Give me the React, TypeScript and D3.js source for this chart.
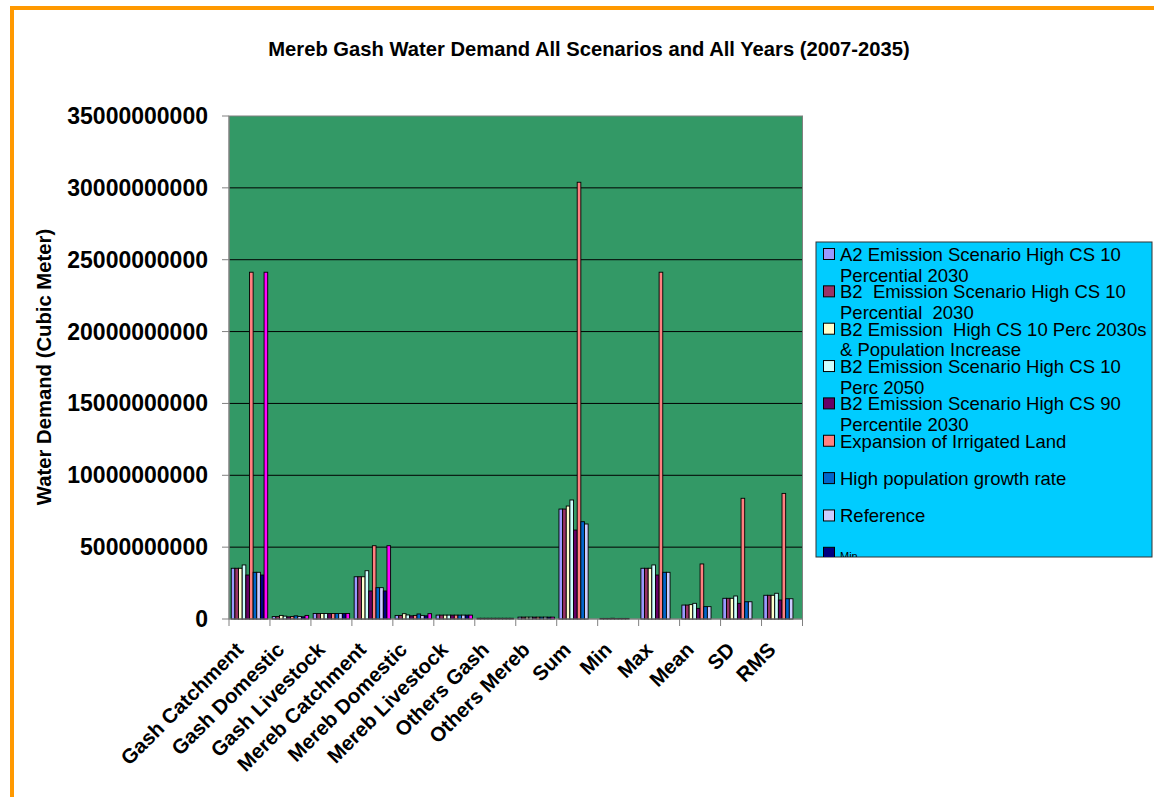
import React from "react";
import * as d3 from "d3";

const categories = [
  "Gash Catchment", "Gash Domestic", "Gash Livestock", "Mereb Catchment",
  "Mereb Domestic", "Mereb Livestock", "Others Gash", "Others Mereb",
  "Sum", "Min", "Max", "Mean", "SD", "RMS",
];

// values in billions of cubic meters (x 1e9)
const a2Hc10 = [3.53, 0.17, 0.38, 2.94, 0.25, 0.27, 0.05, 0.13, 7.65, 0.04, 3.53, 0.97, 1.44, 1.65];
const b2Hc10 = [3.53, 0.17, 0.38, 2.94, 0.25, 0.27, 0.05, 0.13, 7.65, 0.04, 3.53, 0.97, 1.44, 1.65];
const b2Pop = [3.53, 0.25, 0.38, 2.94, 0.37, 0.27, 0.05, 0.13, 7.86, 0.04, 3.53, 1.0, 1.44, 1.65];
const b2Perc2050 = [3.76, 0.2, 0.38, 3.36, 0.28, 0.27, 0.05, 0.13, 8.28, 0.05, 3.76, 1.09, 1.6, 1.79];
const b2Hc90 = [3.06, 0.15, 0.38, 1.95, 0.22, 0.27, 0.05, 0.13, 6.19, 0.03, 3.06, 0.74, 1.09, 1.32];
const expansion = [24.13, 0.17, 0.38, 5.1, 0.25, 0.27, 0.05, 0.13, 30.39, 0.04, 24.13, 3.83, 8.4, 8.74];
const highPop = [3.25, 0.22, 0.38, 2.18, 0.35, 0.27, 0.05, 0.13, 6.77, 0.04, 3.25, 0.86, 1.2, 1.41];
const reference = [3.25, 0.17, 0.38, 2.18, 0.25, 0.27, 0.05, 0.13, 6.61, 0.04, 3.25, 0.86, 1.2, 1.41];
const minSeries = [3.06, 0.15, 0.38, 1.95, 0.22, 0.27, 0.05, 0.13, 0, 0, 0, 0, 0, 0];
const maxSeries = [24.13, 0.25, 0.38, 5.1, 0.37, 0.27, 0.05, 0.13, 0, 0, 0, 0, 0, 0];

const seriesNames = [
  ["A2 Emission Scenario High CS 10", "Percential 2030"],
  ["B2  Emission Scenario High CS 10", "Percential  2030"],
  ["B2 Emission  High CS 10 Perc 2030s", "& Population Increase"],
  ["B2 Emission Scenario High CS 10", "Perc 2050"],
  ["B2 Emission Scenario High CS 90", "Percentile 2030"],
  ["Expansion of Irrigated Land"],
  ["High population growth rate"],
  ["Reference"],
  ["Min"],
  ["Max"],
];
const seriesValues = [a2Hc10, b2Hc10, b2Pop, b2Perc2050, b2Hc90, expansion, highPop, reference, minSeries, maxSeries];
const seriesColors = ["#9999FF", "#993366", "#FFFFCC", "#CCFFFF", "#660066", "#FF8080", "#0066CC", "#CCCCFF", "#000080", "#FF00FF"];

const yTicks = [0, 5, 10, 15, 20, 25, 30, 35];
const SCALE = 1e9;

const W = 1154;
const H = 797;
const FONT = "'Liberation Sans', Arial, Helvetica, sans-serif";

export default function App() {
  const plot = { left: 229, right: 802.5, top: 116, bottom: 619 };
  const x0 = d3.scaleBand<string>().domain(categories).range([plot.left, plot.right]).paddingInner(0).paddingOuter(0);
  const bw = x0.bandwidth();
  const x1 = d3.scaleBand<number>().domain(d3.range(seriesValues.length)).range([bw * 0.055, bw * 0.945]).padding(0);
  const y = d3.scaleLinear().domain([0, 35 * SCALE]).range([plot.bottom, plot.top]);

  const legend = { x: 816, y: 242, w: 336, h: 315 };
  const itemStep = 37.35;
  const firstBaseline = 261;

  return (
    <svg width={W} height={H} style={{ position: "absolute", left: 0, top: 0, background: "#fff" }} fontFamily={FONT}>
      <defs>
        <clipPath id="legclip">
          <rect x={legend.x} y={legend.y} width={legend.w} height={legend.h} />
        </clipPath>
      </defs>
      <rect x={0} y={0} width={W} height={H} fill="#fff" />
      <rect x={12} y={8} width={W + 40} height={H + 40} fill="none" stroke="#FF9900" strokeWidth={4} />

      <text x={589} y={56} textAnchor="middle" fontSize={20.2} fontWeight="bold" fill="#000">
        Mereb Gash Water Demand All Scenarios and All Years (2007-2035)
      </text>

      {/* plot area */}
      <rect x={plot.left} y={plot.top} width={plot.right - plot.left} height={plot.bottom - plot.top} fill="#339966" />
      {yTicks.filter((t) => t > 0 && t < 35).map((t) => (
        <line key={t} x1={plot.left} x2={plot.right} y1={y(t * SCALE)} y2={y(t * SCALE)} stroke="#000" strokeWidth={1} />
      ))}
      <rect x={plot.left} y={plot.top} width={plot.right - plot.left} height={plot.bottom - plot.top} fill="none" stroke="#808080" strokeWidth={1} />

      {/* bars */}
      {categories.map((c, ci) => (
        <g key={c} transform={`translate(${x0(c)},0)`}>
          {seriesValues.map((vals, si) => {
            const v = vals[ci] * SCALE;
            if (v <= 0) return null;
            const top = y(v);
            return (
              <rect key={si} x={x1(si)} y={top} width={x1.bandwidth()} height={plot.bottom - top}
                fill={seriesColors[si]} stroke="#000" strokeWidth={0.9} />
            );
          })}
        </g>
      ))}

      {/* y axis */}
      <line x1={plot.left} x2={plot.left} y1={plot.top} y2={plot.bottom} stroke="#808080" />
      {yTicks.map((t) => (
        <g key={t}>
          <line x1={plot.left - 7} x2={plot.left} y1={y(t * SCALE)} y2={y(t * SCALE)} stroke="#808080" />
          <text x={208} y={y(t * SCALE) + 8} textAnchor="end" fontSize={23} fontWeight="bold" fill="#000">
            {String(t * SCALE)}
          </text>
        </g>
      ))}
      <text transform={`translate(51,367) rotate(-90)`} textAnchor="middle" fontSize={20.3} fontWeight="bold" fill="#000">
        Water Demand (Cubic Meter)
      </text>

      {/* x axis */}
      <line x1={plot.left} x2={plot.right} y1={plot.bottom} y2={plot.bottom} stroke="#808080" />
      {categories.map((c) => (
        <line key={c} x1={x0(c)} x2={x0(c)} y1={plot.bottom} y2={plot.bottom + 7} stroke="#808080" />
      ))}
      <line x1={plot.right} x2={plot.right} y1={plot.bottom} y2={plot.bottom + 7} stroke="#808080" />
      {categories.map((c) => {
        const cx = (x0(c) as number) + bw / 2;
        return (
          <text key={c} transform={`translate(${cx - 5},651) rotate(-45)`} textAnchor="end" fontSize={20.5} fontWeight="bold" fill="#000">
            {c}
          </text>
        );
      })}

      {/* legend */}
      <rect x={legend.x} y={legend.y} width={legend.w} height={legend.h} fill="#00CCFF" stroke="#333" strokeWidth={1} />
      <g clipPath="url(#legclip)">
        {seriesNames.map((lines, i) => {
          const base = firstBaseline + i * itemStep;
          const small = i >= 8;
          return (
            <g key={i}>
              <rect x={823.5} y={base - 12.5} width={11} height={11} fill={seriesColors[i]} stroke="#000" strokeWidth={1} />
              {lines.map((ln, li) => (
                <text key={li} x={840} y={base + li * 20.5} fontSize={small ? 11 : 18.5} fill="#000" style={{ whiteSpace: "pre" }}>
                  {ln}
                </text>
              ))}
            </g>
          );
        })}
      </g>
    </svg>
  );
}
